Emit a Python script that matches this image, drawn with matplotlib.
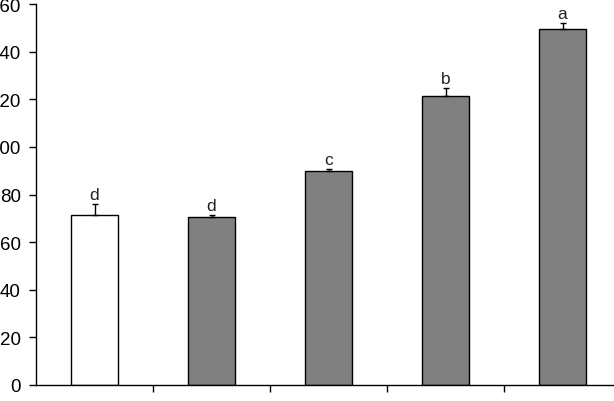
import numpy as np
import matplotlib
matplotlib.use("Agg")
import matplotlib.pyplot as plt

plt.rcParams['font.family'] = ['Liberation Sans', 'DejaVu Sans']

# data
groups = ['1', '2', '3', '4', '5']
means = [71.6, 70.7, 90.0, 121.5, 149.5]
errs = [4.3, 0.8, 0.8, 3.2, 2.4]
letters = ['d', 'd', 'c', 'b', 'a']
colors = ['white', '#808080', '#808080', '#808080', '#808080']

fig = plt.figure(figsize=(6.14, 4.02), dpi=100)
ax = fig.add_axes([36 / 614, 16 / 402, 585 / 614, 381 / 402])

x = np.arange(len(groups))
ax.bar(x, means, width=0.4, color=colors, edgecolor='black', linewidth=1.0, zorder=2)
ax.errorbar(x, means, yerr=[np.zeros(len(errs)), errs], fmt='none',
            ecolor='black', elinewidth=1.0, capsize=2.5, capthick=1.0, zorder=3)

for xi, m, e, lab in zip(x, means, errs, letters):
    ax.text(xi, m + e + 0.8, lab, ha='center', va='bottom', fontsize=12.5, color='#222222')

ax.set_xlim(-0.5, 4.5)
ax.set_ylim(0, 160)
ax.set_yticks(np.arange(0, 161, 20))
ax.set_xticks(np.arange(0.5, 4.6, 1))
ax.set_xticklabels([])
ax.tick_params(axis='y', direction='out', length=5, width=1, labelsize=13.5, pad=6)
ax.tick_params(axis='x', direction='out', length=5, width=1)
ax.spines['top'].set_visible(False)
ax.spines['right'].set_visible(False)
ax.spines['left'].set_linewidth(1)
ax.spines['bottom'].set_linewidth(1)

fig.savefig('out.png', dpi=100)
